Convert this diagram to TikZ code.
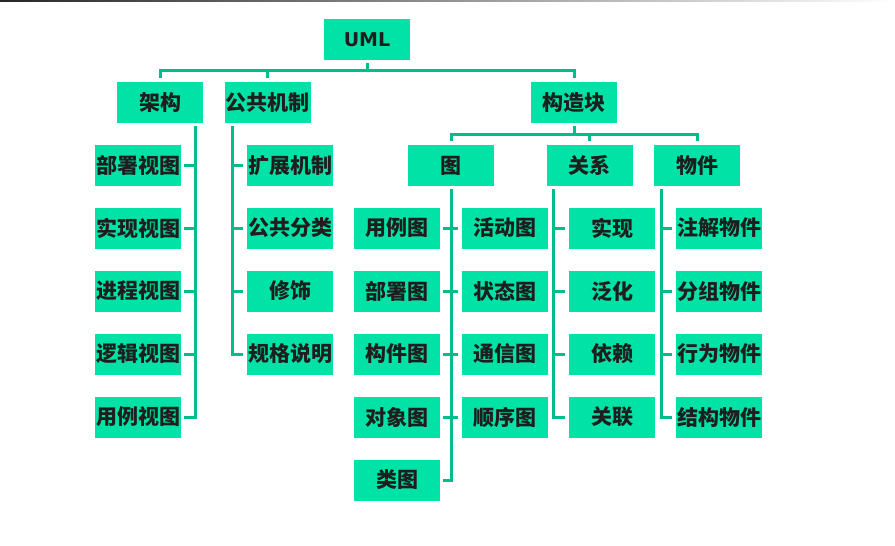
\documentclass[tikz,border=0pt]{standalone}
\usepackage{fontspec}
\newfontfamily\cjk{Noto Sans CJK SC}
\newfontfamily\umlfont{DejaVu Sans}
\definecolor{boxfill}{RGB}{0,226,166}
\definecolor{linec}{RGB}{0,190,140}
\definecolor{txt}{RGB}{30,30,30}
\begin{document}
\begin{tikzpicture}[x=1pt,y=-1pt,
  box/.style={fill=boxfill, minimum width=86pt, minimum height=41pt, inner sep=0pt, text=txt,
    font=\cjk\bfseries\fontsize{21}{25}\selectfont},
  conn/.style={draw=linec, line width=3pt}]
\useasboundingbox (0,0) rectangle (895,546);
\shade[left color=black!85, right color=white] (0,0) rectangle (895,1.5);

% top level
\node[box, font=\umlfont\bfseries\fontsize{19}{22}\selectfont] (uml) at (367,39.5) {UML};
\node[box] (jg) at (160,102.5) {架构};
\node[box] (gg) at (267.5,102.5) {公共机制};
\node[box] (gz) at (574,102.5) {构造块};

\coordinate (bus1) at (367,70);
\draw[conn] ([yshift=-3pt]uml.south) -- (bus1);
\draw[conn] ([yshift=4pt]jg.north) |- (bus1) -| ([yshift=4pt]gz.north);
\draw[conn] ([yshift=4pt]gg.north) -- (gg.north |- bus1);

% 架构 children
\node[box] (a1) at (138,165.5) {部署视图};
\node[box] (a2) at (138,228) {实现视图};
\node[box] (a3) at (138,291) {进程视图};
\node[box] (a4) at (138,354) {逻辑视图};
\node[box] (a5) at (138,417) {用例视图};
\coordinate (t1) at ([xshift=-8pt,yshift=-3pt]jg.south east);
\draw[conn] (t1) |- ([xshift=3pt]a5.east);
\foreach \i in {1,...,4}{\draw[conn] ([xshift=3pt]a\i.east) -- (a\i.east -| t1);}

% 公共机制 children
\node[box] (b1) at (290,165.5) {扩展机制};
\node[box] (b2) at (290,228) {公共分类};
\node[box] (b3) at (290,291) {修饰};
\node[box] (b4) at (290,354) {规格说明};
\coordinate (t2) at ([xshift=8pt,yshift=-3pt]gg.south west);
\draw[conn] (t2) |- ([xshift=-4pt]b4.west);
\foreach \i in {1,...,3}{\draw[conn] ([xshift=-4pt]b\i.west) -- (b\i.west -| t2);}

% 构造块 children
\node[box] (tu) at (451,165.5) {图};
\node[box] (gx) at (589.5,165.5) {关系};
\node[box] (wj) at (697,165.5) {物件};
\coordinate (bus2) at (574,134);
\draw[conn] ([yshift=-3pt]gz.south) -- (bus2);
\draw[conn] ([yshift=4pt]tu.north) |- (bus2) -| ([yshift=4pt]wj.north);
\draw[conn] ([yshift=4pt]gx.north) -- (gx.north |- bus2);

% 图 children
\node[box] (l1) at (397,228) {用例图};
\node[box] (l2) at (397,291) {部署图};
\node[box] (l3) at (397,354) {构件图};
\node[box] (l4) at (397,417) {对象图};
\node[box] (l5) at (397,480) {类图};
\node[box] (r1) at (504.5,228) {活动图};
\node[box] (r2) at (504.5,291) {状态图};
\node[box] (r3) at (504.5,354) {通信图};
\node[box] (r4) at (504.5,417) {顺序图};
\draw[conn] ([yshift=-3pt]tu.south) |- ([xshift=3pt]l5.east);
\foreach \i in {1,...,4}{\draw[conn] ([xshift=3pt]l\i.east) -- ([xshift=-3pt]r\i.west);}

% 关系 children
\node[box] (c1) at (612,228) {实现};
\node[box] (c2) at (612,291) {泛化};
\node[box] (c3) at (612,354) {依赖};
\node[box] (c4) at (612,417) {关联};
\coordinate (t3) at ([xshift=7pt,yshift=-3pt]gx.south west);
\draw[conn] (t3) |- ([xshift=-4pt]c4.west);
\foreach \i in {1,...,3}{\draw[conn] ([xshift=-4pt]c\i.west) -- (c\i.west -| t3);}

% 物件 children
\node[box] (d1) at (719,228) {注解物件};
\node[box] (d2) at (719,291) {分组物件};
\node[box] (d3) at (719,354) {行为物件};
\node[box] (d4) at (719,417) {结构物件};
\coordinate (t4) at ([xshift=8pt,yshift=-3pt]wj.south west);
\draw[conn] (t4) |- ([xshift=-4pt]d4.west);
\foreach \i in {1,...,3}{\draw[conn] ([xshift=-4pt]d\i.west) -- (d\i.west -| t4);}
\end{tikzpicture}
\end{document}
